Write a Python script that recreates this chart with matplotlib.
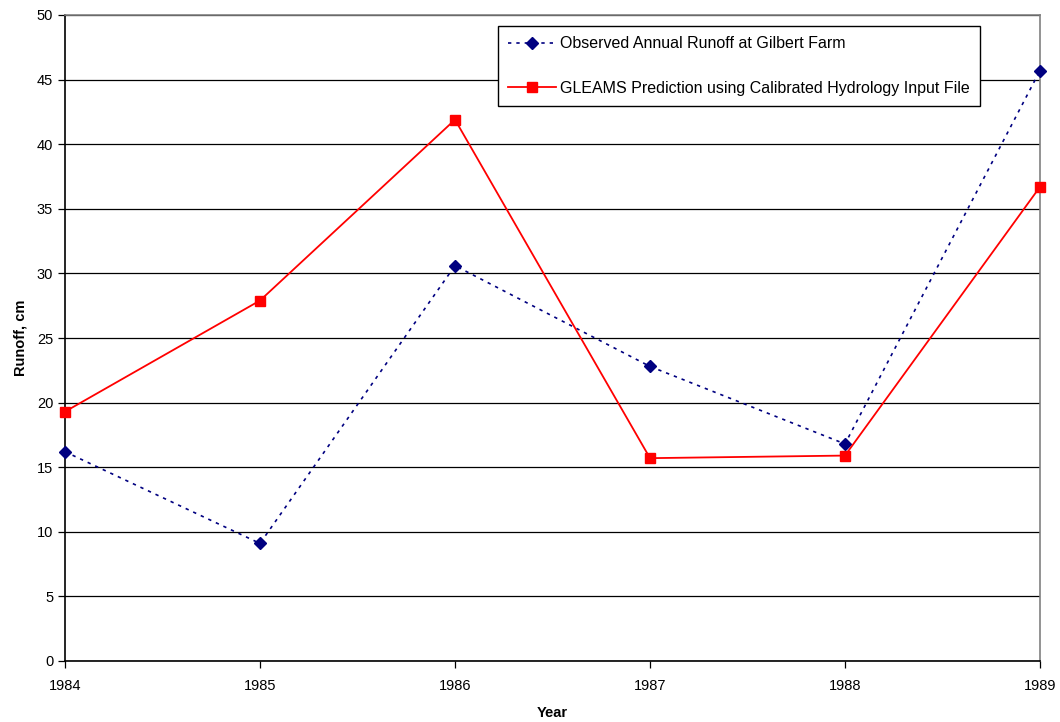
import matplotlib.pyplot as plt

plt.rcParams["font.family"] = ["Liberation Sans", "DejaVu Sans"]

years = [1984, 1985, 1986, 1987, 1988, 1989]
observed = [16.2, 9.1, 30.6, 22.8, 16.8, 45.7]
gleams = [19.3, 27.9, 41.9, 15.7, 15.9, 36.7]

fig = plt.figure(figsize=(10.6, 7.22), dpi=100)
ax = fig.add_axes([65 / 1060, 61 / 722, 975 / 1060, 646 / 722])

ax.yaxis.grid(True, color="black", linewidth=0.9)
ax.set_axisbelow(True)

ax.plot(years, observed, linestyle=(0, (2, 3)), color="#000080", linewidth=1.2,
        marker="D", markersize=6, label="Observed Annual Runoff at Gilbert Farm",
        clip_on=False, zorder=3)
ax.plot(years, gleams, linestyle="-", color="#ff0000", linewidth=1.3,
        marker="s", markersize=7, label="GLEAMS Prediction using Calibrated Hydrology Input File",
        clip_on=False, zorder=4)

ax.set_xlim(1984, 1989)
ax.set_ylim(0, 50)
ax.set_xticks(years)
ax.set_yticks(range(0, 51, 5))
ax.tick_params(labelsize=10.5, direction="out", length=5, width=0.9, color="black")
ax.tick_params(axis="x", pad=8)

for side in ["left", "bottom"]:
    ax.spines[side].set_color("black")
    ax.spines[side].set_linewidth(1.2)
for side in ["top", "right"]:
    ax.spines[side].set_color("#808080")
    ax.spines[side].set_linewidth(1.2)

ax.set_xlabel("Year", fontsize=10.5, fontweight="bold", labelpad=9)
ax.set_ylabel("Runoff, cm", fontsize=10.5, fontweight="bold", labelpad=7)

leg = ax.legend(loc="upper right", bbox_to_anchor=(980 / 1060, 1 - 26 / 722),
                bbox_transform=fig.transFigure, fontsize=11.5, fancybox=False,
                edgecolor="black", framealpha=1, borderpad=0.65, labelspacing=1.85,
                handlelength=3.0, handletextpad=0.25, borderaxespad=0)
leg.get_frame().set_linewidth(1.0)

fig.savefig("out.png", dpi=100)
